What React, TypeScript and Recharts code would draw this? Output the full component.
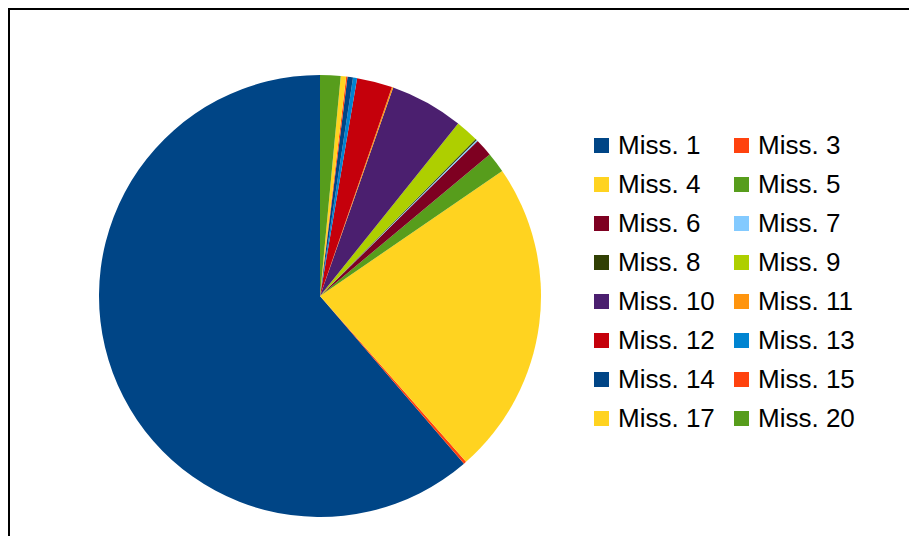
import { PieChart, Pie, Cell, Legend } from 'recharts';

const names = [
  'Miss. 1', 'Miss. 3', 'Miss. 4', 'Miss. 5', 'Miss. 6', 'Miss. 7', 'Miss. 8', 'Miss. 9',
  'Miss. 10', 'Miss. 11', 'Miss. 12', 'Miss. 13', 'Miss. 14', 'Miss. 15', 'Miss. 17', 'Miss. 20',
];
const values = [616, 2, 232, 15, 13, 1, 1, 17, 54, 1, 26, 3, 4, 1, 4, 15];
const colors = [
  '#004586', '#ff420e', '#ffd320', '#579d1c', '#7e0021', '#83caff', '#314004', '#aecf00',
  '#4b1f6f', '#ff950e', '#c5000b', '#0084d1', '#004586', '#ff420e', '#ffd320', '#579d1c',
];

const data = names.map((name, i) => ({ name, value: values[i] }));

function LegendGrid() {
  return (
    <div
      style={{
        display: 'grid',
        gridTemplateColumns: '140px 140px',
        fontFamily: '"Liberation Sans", Arial, sans-serif',
        fontSize: 26,
        lineHeight: '39px',
        color: '#000',
      }}
    >
      {names.map((n, i) => (
        <div key={n} style={{ display: 'flex', alignItems: 'center', whiteSpace: 'nowrap' }}>
          <span
            style={{
              display: 'inline-block',
              width: 15,
              height: 15,
              background: colors[i],
              marginRight: 9,
            }}
          />
          <span>{n}</span>
        </div>
      ))}
    </div>
  );
}

export default function App() {
  return (
    <div style={{ width: 909, height: 528, overflow: 'hidden' }}>
      <div style={{ width: 920, height: 560, border: '2px solid #000', background: '#fff' }}>
        <PieChart width={920} height={560}>
          <Pie
            data={data}
            dataKey="value"
            nameKey="name"
            cx={305}
            cy={281}
            outerRadius={221}
            startAngle={90}
            endAngle={450}
            stroke="none"
            isAnimationActive={false}
          >
            {data.map((d, i) => (
              <Cell key={d.name} fill={colors[i]} />
            ))}
          </Pie>
          <Legend
            content={() => <LegendGrid />}
            wrapperStyle={{ position: 'absolute', left: 584, top: 116, width: 300 }}
          />
        </PieChart>
      </div>
    </div>
  );
}
